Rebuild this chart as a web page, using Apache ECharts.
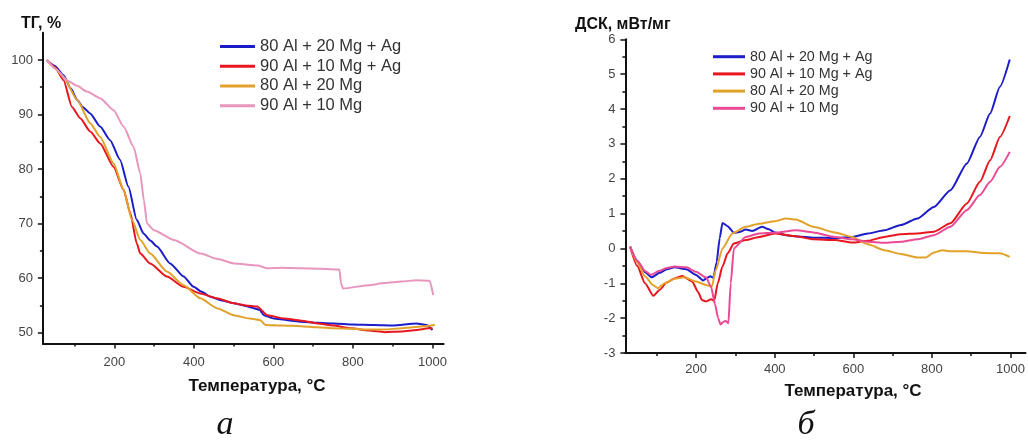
<!DOCTYPE html>
<html>
<head>
<meta charset="utf-8">
<script src="https://cdn.jsdelivr.net/npm/echarts@6/dist/echarts.min.js"></script>
<style>
html,body{margin:0;padding:0;background:#fff;}
#chart{width:1028px;height:441px;}
</style>
</head>
<body>
<div id="chart"></div>
<script>
const seriesNames = ['80 Al + 20 Mg + Ag', '90 Al + 10 Mg + Ag', '80 Al + 20 Mg', '90 Al + 10 Mg'];
const xTickLabels = [200, 400, 600, 800, 1000];
const tgTickLabels = [50, 60, 70, 80, 90, 100];
const dscTickLabels = [-3, -2, -1, 0, 1, 2, 3, 4, 5, 6];

// ТГ (%) vs temperature (°C)
const tgBlue = [[30,100],[50,98.9],[72,97.2],[90,94.8],[106,92.7],[120,91.4],[139,90.2],[164,87.8],[189,85.3],[214,81.7],[235,76.8],[256,70.7],[273,68.2],[290,66.9],[307,65.8],[340,62.7],[374,60.3],[399,58.4],[420,57.5],[441,56.6],[470,55.9],[500,55.4],[530,54.9],[550,54.5],[565,54.2],[576,53.2],[601,52.6],[635,52.3],[669,52],[710,51.8],[753,51.7],[800,51.5],[854,51.4],[900,51.3],[960,51.7],[985,51.4],[1000,50.5]];
const tgRed = [[30,100],[50,98.7],[72,96.3],[93,91.4],[114,89.3],[139,86.9],[164,84.7],[198,80.4],[223,76.2],[240,71.9],[256,66.4],[265,64.5],[290,62.7],[332,60.3],[374,58.4],[416,57.2],[458,56.3],[500,55.4],[530,55],[559,54.8],[585,53.2],[627,52.6],[670,52.2],[711,51.7],[750,51.3],[795,50.8],[840,50.4],[879,50.1],[922,50.2],[960,50.5],[989,50.8],[1000,50.8]];
const tgYellow = [[30,100],[50,98.5],[72,96.9],[106,92.7],[139,88.4],[164,85.9],[198,81],[223,76.2],[244,70.7],[265,67],[290,64.5],[332,61.2],[374,58.7],[416,56.3],[458,54.5],[500,53.2],[540,52.6],[567,52.3],[580,51.4],[620,51.3],[669,51.2],[710,51],[753,50.8],[800,50.7],[837,50.6],[880,50.6],[922,50.8],[965,51.1],[1006,51.4]];
const tgPink = [[30,100],[55,98.2],[80,96.3],[105,95.3],[131,94.2],[164,93],[198,90.8],[223,87.8],[248,84.1],[265,79.2],[274,74.3],[282,70],[299,68.8],[350,67],[417,64.5],[460,63.5],[501,62.7],[560,62.3],[585,61.8],[620,61.9],[669,61.8],[720,61.7],[766,61.6],[770,59],[775,58.1],[838,58.7],[880,59.1],[922,59.4],[960,59.6],[993,59.5],[1002,56.9]];

// ДСК (мВт/мг) vs temperature (°C)
const dscBlue = [[32,0.05],[50,-0.35],[70,-0.68],[87,-0.83],[107,-0.7],[125,-0.6],[145,-0.54],[175,-0.6],[200,-0.76],[218,-0.92],[228,-0.84],[236,-0.8],[244,-0.84],[252,-0.4],[260,0.3],[267,0.73],[280,0.64],[296,0.45],[310,0.47],[326,0.54],[343,0.5],[368,0.62],[385,0.55],[400,0.46],[429,0.38],[460,0.34],[498,0.31],[553,0.3],[597,0.33],[637,0.43],[679,0.52],[721,0.67],[763,0.86],[805,1.19],[847,1.67],[889,2.44],[922,3.2],[948,3.87],[973,4.64],[998,5.42]];
const dscRed = [[32,0.05],[50,-0.5],[70,-1.0],[91,-1.36],[107,-1.19],[125,-0.98],[145,-0.86],[165,-0.79],[190,-0.95],[205,-1.25],[215,-1.48],[225,-1.52],[238,-1.46],[246,-1.5],[255,-1.0],[267,-0.52],[280,-0.14],[296,0.14],[326,0.24],[360,0.33],[400,0.43],[450,0.36],[498,0.26],[553,0.24],[597,0.17],[637,0.22],[679,0.33],[721,0.41],[763,0.43],[805,0.48],[847,0.72],[889,1.29],[922,1.91],[948,2.53],[973,3.2],[998,3.8]];
const dscYellow = [[32,0.05],[50,-0.4],[70,-0.8],[90,-1.05],[102,-1.14],[120,-1.0],[145,-0.86],[170,-0.83],[200,-0.95],[225,-1.05],[240,-1.1],[250,-0.62],[267,0.0],[292,0.43],[326,0.62],[360,0.71],[400,0.78],[429,0.86],[454,0.83],[498,0.62],[553,0.46],[597,0.33],[637,0.12],[679,-0.05],[721,-0.16],[763,-0.26],[784,-0.26],[805,-0.12],[826,-0.05],[847,-0.08],[889,-0.08],[931,-0.13],[973,-0.14],[998,-0.24]];
const dscPink = [[32,0.05],[50,-0.35],[70,-0.65],[85,-0.76],[105,-0.65],[125,-0.56],[145,-0.52],[175,-0.54],[200,-0.67],[225,-0.83],[238,-1.1],[248,-1.6],[256,-2.0],[262,-2.18],[270,-2.1],[276,-2.08],[282,-2.15],[288,-1.0],[296,0.0],[326,0.33],[360,0.43],[400,0.45],[454,0.52],[498,0.46],[553,0.33],[597,0.26],[637,0.19],[679,0.16],[721,0.19],[763,0.26],[805,0.38],[847,0.62],[889,1.1],[922,1.53],[948,1.91],[973,2.34],[998,2.77]];

const colBlue = '#1c1cc8', colRed = '#e8161e', colYellow = '#e2a22a', colPinkA = '#e896be', colPinkB = '#ea4a95';
const axisCol = '#111', labelCol = '#444';
const FONT = '"Liberation Sans", Arial, sans-serif';

function xAxisCfg(gi, min, max, margin) {
  return {
    gridIndex: gi, type: 'value', min: min, max: max, minInterval: 200, maxInterval: 200,
    axisLine: {show: true, onZero: false, lineStyle: {color: axisCol, width: 2}},
    axisTick: {show: true, length: 5, lineStyle: {color: axisCol, width: 1.5}, customValues: xTickLabels},
    minorTick: {show: true, splitNumber: 2, length: 3, lineStyle: {color: axisCol, width: 1.5}},
    axisLabel: {customValues: xTickLabels, margin: margin, fontSize: 13, color: labelCol, fontFamily: FONT,
      formatter: v => (xTickLabels.indexOf(v) >= 0 ? String(v) : '')},
    splitLine: {show: false}
  };
}

const chart = echarts.init(document.getElementById('chart'), null, {renderer: 'canvas'});
function line(name, data, color, xi, yi) {
  return {name: name, type: 'line', xAxisIndex: xi, yAxisIndex: yi, data: data, showSymbol: false, symbol: 'none',
    smooth: 0.2, smoothMonotone: 'x', lineStyle: {color: color, width: 2}, itemStyle: {color: color}, animation: false};
}
function legendCfg(left, top, fs, lh, w, pinkCol) {
  const cols = [colBlue, colRed, colYellow, pinkCol];
  return {
    orient: 'vertical', left: left, top: top, padding: 0, itemGap: 0, itemWidth: w, itemHeight: 3, icon: 'rect',
    textStyle: {fontSize: fs, lineHeight: lh, color: '#333', fontFamily: FONT},
    selectedMode: false,
    data: seriesNames.map((n, i) => ({name: n, itemStyle: {color: cols[i]}}))
  };
}
const option = {
  backgroundColor: '#fff',
  animation: false,
  grid: [
    {left: 42.9, top: 32.7, width: 400.7, height: 310.9},
    {left: 625.4, top: 39.3, width: 403.8, height: 313.7}
  ],
  xAxis: [xAxisCfg(0, 20, 1028, 12), xAxisCfg(1, 20, 1038, 10)],
  yAxis: [
    {gridIndex: 0, type: 'value', min: 48, max: 105, minInterval: 10, maxInterval: 10,
      axisLine: {show: true, onZero: false, lineStyle: {color: axisCol, width: 2}},
      axisTick: {show: true, length: 5, lineStyle: {color: axisCol, width: 1.5}, customValues: tgTickLabels},
      minorTick: {show: true, splitNumber: 2, length: 3, lineStyle: {color: axisCol, width: 1.5}},
      axisLabel: {customValues: tgTickLabels, margin: 10, fontSize: 13, color: labelCol, fontFamily: FONT,
        formatter: v => (tgTickLabels.indexOf(v) >= 0 ? String(v) : '')},
      splitLine: {show: false}},
    {gridIndex: 1, type: 'value', min: -3, max: 6, interval: 1,
      axisLine: {show: true, onZero: false, lineStyle: {color: axisCol, width: 2}},
      axisTick: {show: true, length: 5, lineStyle: {color: axisCol, width: 1.5}},
      minorTick: {show: true, splitNumber: 2, length: 3, lineStyle: {color: axisCol, width: 1.5}},
      axisLabel: {margin: 10, fontSize: 13, color: labelCol, fontFamily: FONT},
      splitLine: {show: false}}
  ],
  legend: [legendCfg(220, 36.7, 16.5, 19.7, 35, colPinkA), legendCfg(713, 48.1, 14.3, 17.2, 32, colPinkB)],
  series: [
    line(seriesNames[0], tgBlue, colBlue, 0, 0),
    line(seriesNames[1], tgRed, colRed, 0, 0),
    line(seriesNames[2], tgYellow, colYellow, 0, 0),
    line(seriesNames[3], tgPink, colPinkA, 0, 0),
    line(seriesNames[0], dscBlue, colBlue, 1, 1),
    line(seriesNames[1], dscRed, colRed, 1, 1),
    line(seriesNames[2], dscYellow, colYellow, 1, 1),
    line(seriesNames[3], dscPink, colPinkB, 1, 1)
  ],
  graphic: [
    {type: 'text', x: 21, y: 24, style: {text: 'ТГ, %', font: 'bold 16px ' + FONT, fill: '#111', verticalAlign: 'middle'}},
    {type: 'text', x: 575, y: 25, style: {text: 'ДСК, мВт/мг', font: 'bold 16px ' + FONT, fill: '#111', verticalAlign: 'middle'}},
    {type: 'text', x: 257, y: 386.5, style: {text: 'Температура, °C', font: 'bold 17px ' + FONT, fill: '#111', align: 'center', verticalAlign: 'middle'}},
    {type: 'text', x: 853, y: 391.5, style: {text: 'Температура, °C', font: 'bold 17px ' + FONT, fill: '#111', align: 'center', verticalAlign: 'middle'}},
    {type: 'text', x: 225, y: 425, style: {text: 'а', font: 'italic 34px "Liberation Serif", serif', fill: '#111', align: 'center', verticalAlign: 'middle'}},
    {type: 'text', x: 806, y: 425, style: {text: 'б', font: 'italic 34px "Liberation Serif", serif', fill: '#111', align: 'center', verticalAlign: 'middle'}}
  ]
};
chart.setOption(option);
</script>
</body>
</html>
